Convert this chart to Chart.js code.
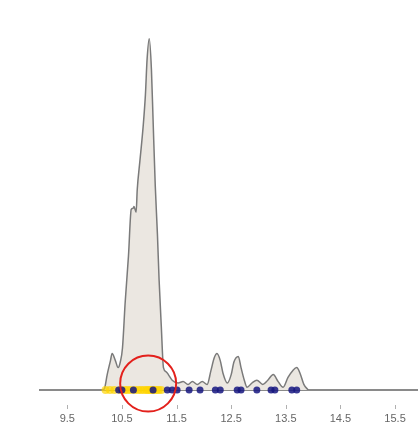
<!DOCTYPE html>
<html>
<head>
<meta charset="utf-8">
<script src="https://cdn.jsdelivr.net/npm/chart.js@4"></script>
<style>
  html, body { margin: 0; padding: 0; background: #fff; }
  #wrap { width: 418px; height: 425px; }
</style>
</head>
<body>
<div id="wrap"><canvas id="densityChart" width="418" height="425"></canvas></div>
<script>
// density curve (x value, density)
const densityX = [10.14, 10.18, 10.23, 10.29, 10.32, 10.38, 10.43, 10.47, 10.51, 10.56,
  10.62, 10.67, 10.71, 10.72, 10.76, 10.78, 10.83, 10.89, 10.93, 10.96,
  11.0, 11.04, 11.07, 11.11, 11.15, 11.18, 11.22, 11.26, 11.31, 11.35,
  11.42, 11.53, 11.62, 11.71, 11.79, 11.88, 11.97, 12.06, 12.13, 12.19,
  12.24, 12.30, 12.35, 12.43, 12.50, 12.55, 12.63, 12.68, 12.74, 12.79,
  12.88, 12.97, 13.08, 13.17, 13.27, 13.36, 13.45, 13.54, 13.63, 13.70,
  13.76, 13.83, 13.91];
const densityY = [0, 0.01, 0.11, 0.21, 0.26, 0.21, 0.16, 0.2, 0.3, 0.63,
  0.96, 1.29, 1.3, 1.31, 1.27, 1.43, 1.64, 1.89, 2.11, 2.36,
  2.51, 2.29, 1.93, 1.46, 1.11, 0.79, 0.46, 0.16, 0.13, 0.11,
  0.07, 0.05, 0.06, 0.04, 0.06, 0.04, 0.06, 0.04, 0.14, 0.23,
  0.26, 0.21, 0.12, 0.05, 0.11, 0.2, 0.24, 0.16, 0.07, 0.02,
  0.05, 0.07, 0.04, 0.07, 0.11, 0.06, 0.02, 0.09, 0.14, 0.16,
  0.12, 0.04, 0];

// observations along the baseline
const yellowObs = [10.2, 10.28, 10.36, 10.47, 10.55, 10.6, 10.66, 10.74, 10.8, 10.85,
  10.9, 10.95, 10.98, 11.02, 11.05, 11.09, 11.13, 11.17, 11.22];
const navyObs = [10.44, 10.5, 10.71, 11.07, 11.33, 11.42, 11.51, 11.73, 11.93, 12.21,
  12.3, 12.61, 12.68, 12.97, 13.23, 13.3, 13.61, 13.7];

// highlighted spot
const highlight = [{ x: 10.98, y: 0.046 }];

const tickValues = [9.5, 10.5, 11.5, 12.5, 13.5, 14.5, 15.5];

// small tick marks sitting under the axis, apart from it
const tickMarks = {
  id: 'tickMarks',
  afterDraw(chart) {
    const sc = chart.scales.x;
    const ctx = chart.ctx;
    const top = chart.chartArea.bottom + 15;
    ctx.save();
    ctx.strokeStyle = '#b0b0b0';
    ctx.lineWidth = 1;
    tickValues.forEach(v => {
      const px = Math.round(sc.getPixelForValue(v)) + 0.5;
      ctx.beginPath();
      ctx.moveTo(px, top);
      ctx.lineTo(px, top + 4);
      ctx.stroke();
    });
    ctx.restore();
  }
};

const ctx = document.getElementById('densityChart');

new Chart(ctx, {
  type: 'scatter',
  data: {
    datasets: [
      {
        data: highlight,
        pointRadius: 28,
        pointHoverRadius: 28,
        pointBackgroundColor: 'rgba(0,0,0,0)',
        pointBorderColor: '#e3211c',
        pointBorderWidth: 2,
        clip: false
      },
      {
        data: navyObs.map(x => ({ x: x, y: 0 })),
        pointRadius: 3.5,
        pointBackgroundColor: 'rgba(22,22,128,0.85)',
        pointBorderWidth: 0,
        clip: false
      },
      {
        data: yellowObs.map(x => ({ x: x, y: 0 })),
        pointRadius: 4,
        pointBackgroundColor: 'rgba(255,212,0,0.7)',
        pointBorderWidth: 0,
        clip: false
      },
      {
        type: 'line',
        data: densityX.map((x, i) => ({ x: x, y: densityY[i] })),
        borderColor: '#7a7a7a',
        borderWidth: 1.5,
        backgroundColor: '#ebe7e1',
        fill: 'origin',
        pointRadius: 0,
        cubicInterpolationMode: 'monotone'
      }
    ]
  },
  options: {
    responsive: false,
    animation: false,
    layout: { autoPadding: false, padding: { left: 40, right: 0, top: 0, bottom: 0 } },
    scales: {
      x: {
        type: 'linear',
        min: 9.0,
        max: 15.92,
        afterBuildTicks: scale => {
          scale.ticks = tickValues.map(v => ({ value: v }));
        },
        afterFit: scale => { scale.height = 35; },
        grid: { display: false, drawTicks: true, tickLength: 20 },
        border: { display: true, color: '#8a8a8a', width: 2 },
        ticks: {
          padding: 2,
          color: '#666',
          maxRotation: 0,
          font: { family: 'Liberation Sans, Arial, sans-serif', size: 11 },
          callback: v => String(v)
        }
      },
      y: {
        display: false,
        min: 0,
        max: 2.786
      }
    },
    plugins: {
      legend: { display: false },
      tooltip: { enabled: false }
    }
  },
  plugins: [tickMarks]
});
</script>
</body>
</html>
